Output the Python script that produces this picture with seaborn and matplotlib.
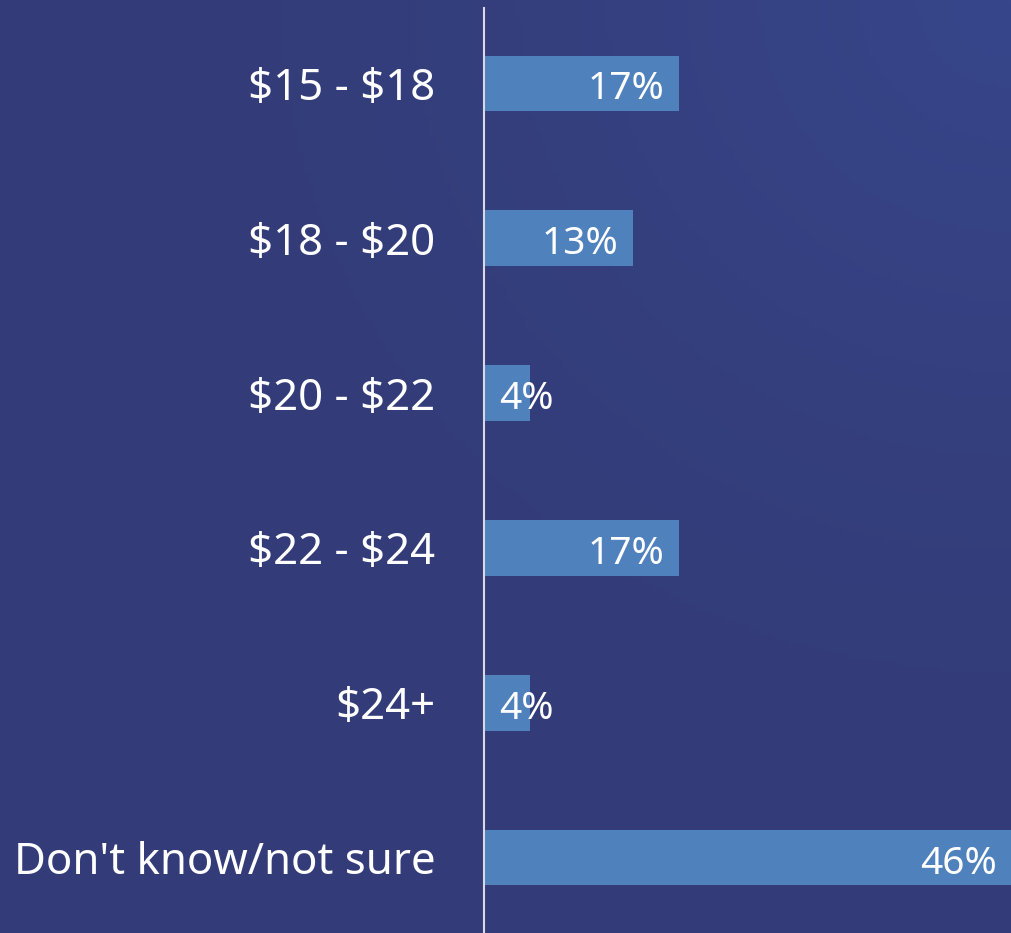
import numpy as np
import pandas as pd
import matplotlib
matplotlib.use('Agg')
import matplotlib.pyplot as plt
import seaborn as sns

# data
categories = ['$15 - $18', '$18 - $20', '$20 - $22', '$22 - $24', '$24+', "Don't know/not sure"]
values = [17, 13, 4, 17, 4, 46]

bg = '#333c78'
bar_color = '#4f81bd'

sns.set_theme(style='white')
plt.rcParams['font.family'] = ['Noto Sans', 'DejaVu Sans']

fig = plt.figure(figsize=(10.12, 9.33), dpi=100)
fig.patch.set_facecolor(bg)

# soft radial glow in the top right corner
bg_ax = fig.add_axes([0, 0, 1, 1], zorder=0)
yy, xx = np.mgrid[0:1:200j, 0:1:200j]
d = np.sqrt((xx - 1.0) ** 2 + (yy - 1.0) ** 2)
glow = np.clip(1 - d / 1.0, 0, 1) ** 1.8
c0 = np.array(matplotlib.colors.to_rgb(bg))
c1 = np.array(matplotlib.colors.to_rgb('#37468b'))
img = c0 + (c1 - c0) * glow[..., None]
bg_ax.imshow(img, origin='lower', extent=[0, 1, 0, 1], aspect='auto')
bg_ax.axis('off')

ax = fig.add_axes([484 / 1012, 0, 1 - 484 / 1012, 925 / 933], zorder=1)
ax.patch.set_alpha(0)

df = pd.DataFrame({'category': categories, 'value': values})
sns.barplot(data=df, x='value', y='category', color=bar_color, saturation=1,
            width=0.355, linewidth=0, edgecolor='none', ax=ax)

ax.set_xlim(0, 46)
ax.set_ylim(5.484, -0.484)
ax.set_xlabel('')
ax.set_ylabel('')
ax.set_xticks([])

for s in ['top', 'right', 'bottom']:
    ax.spines[s].set_visible(False)
ax.spines['left'].set_color('#d9d9e6')
ax.spines['left'].set_linewidth(1.5)

ax.tick_params(axis='y', length=0, pad=35, labelsize=31.5, labelcolor='white')
for t in ax.get_yticklabels():
    t.set_parse_math(False)
    t.set_y(t.get_position()[1])

for i, v in enumerate(values):
    if v < 8:
        ax.annotate(f'{v}%', (0, i), xytext=(11, -4), textcoords='offset points',
                    ha='left', va='center', color='white', fontsize=28)
    else:
        ax.annotate(f'{v}%', (v, i), xytext=(-11, -4), textcoords='offset points',
                    ha='right', va='center', color='white', fontsize=28)

fig.savefig('out.png', dpi=100, facecolor=fig.get_facecolor())
